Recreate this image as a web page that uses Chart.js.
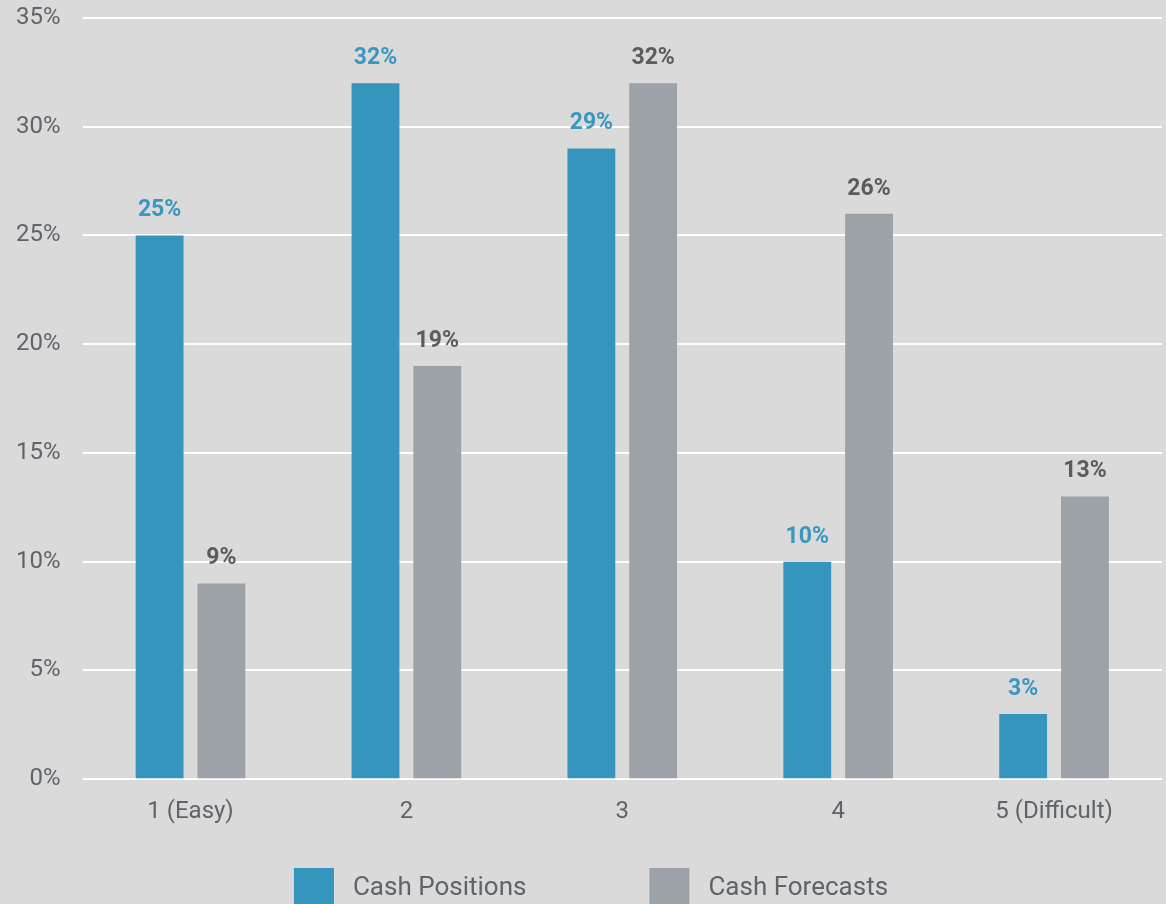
<!DOCTYPE html>
<html>
<head>
<meta charset="utf-8">
<script src="https://cdn.jsdelivr.net/npm/chart.js@4/dist/chart.umd.min.js"></script>
<style>
  html, body { margin: 0; padding: 0; background: #dadada; overflow: hidden; }
  #wrap { width: 1166px; height: 904px; }
</style>
</head>
<body>
<div id="wrap"><canvas id="myChart" width="1166" height="904"></canvas></div>
<script>
const categories = ['1 (Easy)', '2', '3', '4', '5 (Difficult)'];
const cashPositions = [25, 32, 29, 10, 3];
const cashForecasts = [9, 19, 32, 26, 13];
const seriesNames = ['Cash Positions', 'Cash Forecasts'];

const blue = '#3595bd';
const grey = '#9da1a8';
const tickColor = '#5f646b';

// value labels above each bar, coloured per series
const barLabels = {
    id: 'barLabels',
    afterDatasetsDraw(chart) {
        const ctx = chart.ctx;
        const colors = ['#3a97c0', '#5b5c5e'];
        ctx.save();
        ctx.font = 'bold 23px Roboto';
        ctx.textAlign = 'center';
        ctx.textBaseline = 'alphabetic';
        chart.data.datasets.forEach((ds, i) => {
            ctx.fillStyle = colors[i];
            chart.getDatasetMeta(i).data.forEach((bar, j) => {
                ctx.fillText(ds.data[j] + '%', bar.x, bar.y - 19);
            });
        });
        ctx.restore();
    }
};

// legend along the bottom edge
const bottomLegend = {
    id: 'bottomLegend',
    afterDraw(chart) {
        const ctx = chart.ctx;
        const box = 40, gap = 19, spacing = 123;
        ctx.save();
        ctx.font = '26px Roboto';
        ctx.textBaseline = 'middle';
        const widths = chart.data.datasets.map(ds => box + gap + ctx.measureText(ds.label).width);
        const total = widths[0] + spacing + widths[1];
        let x = (chart.width - total) / 2 + 8;
        const top = 868;
        chart.data.datasets.forEach((ds, i) => {
            ctx.fillStyle = ds.backgroundColor;
            ctx.fillRect(x, top, box, box);
            ctx.fillStyle = tickColor;
            ctx.fillText(ds.label, x + box + gap, top + 20);
            x += widths[i] + spacing;
        });
        ctx.restore();
    }
};

new Chart(document.getElementById('myChart').getContext('2d'), {
    type: 'bar',
    data: {
        labels: categories,
        datasets: [{
            label: seriesNames[0],
            data: cashPositions,
            backgroundColor: blue,
            categoryPercentage: 0.5725,
            barPercentage: 0.774
        }, {
            label: seriesNames[1],
            data: cashForecasts,
            backgroundColor: grey,
            categoryPercentage: 0.5725,
            barPercentage: 0.774
        }]
    },
    options: {
        responsive: false,
        animation: false,
        layout: { padding: { left: 16, top: 18, right: 4, bottom: 68 } },
        plugins: {
            legend: { display: false },
            tooltip: { enabled: false }
        },
        scales: {
            x: {
                grid: { display: false },
                border: { display: false },
                ticks: { color: tickColor, font: { family: 'Roboto', size: 24 }, padding: 10 }
            },
            y: {
                min: 0,
                max: 35,
                // transparent tick marks keep the gap between labels and grid
                grid: { color: '#ffffff', lineWidth: 2, drawTicks: true, tickLength: 22, tickColor: 'rgba(0,0,0,0)' },
                border: { display: false },
                ticks: {
                    stepSize: 5,
                    color: tickColor,
                    font: { family: 'Roboto', size: 24 },
                    padding: 0,
                    callback: v => v + '%'
                }
            }
        }
    },
    plugins: [barLabels, bottomLegend]
});
</script>
</body>
</html>
